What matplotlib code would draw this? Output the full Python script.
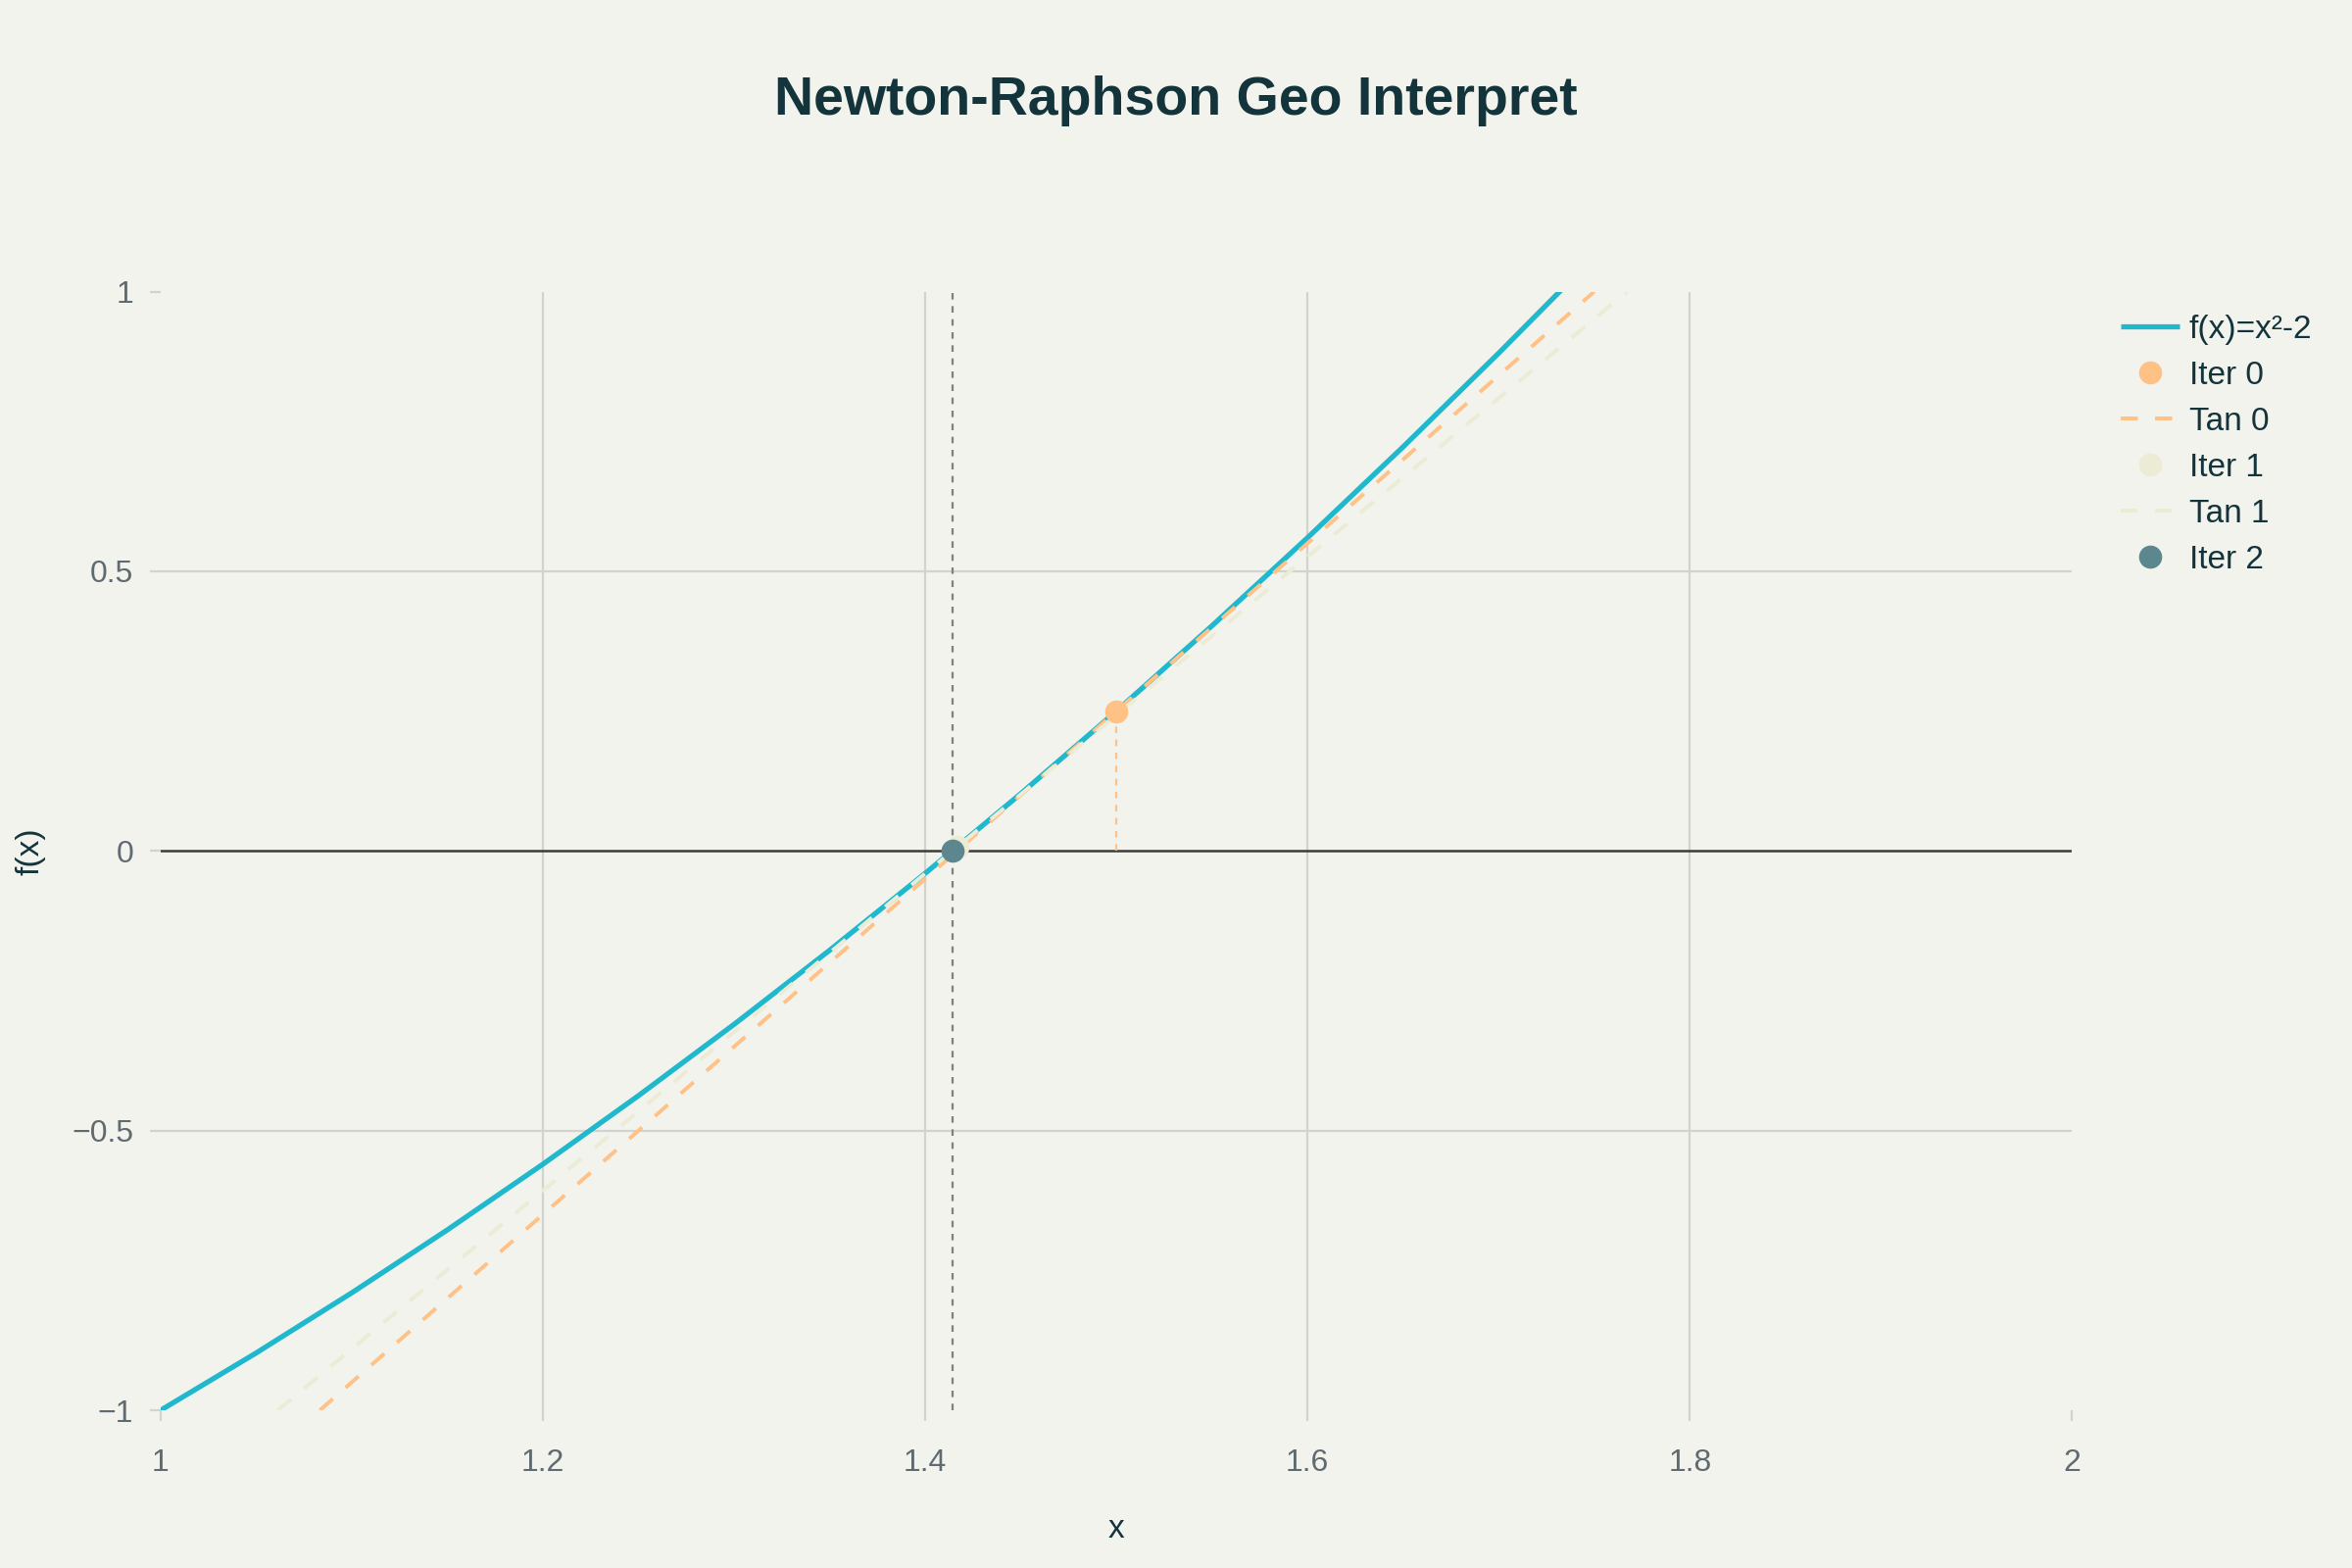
import matplotlib
matplotlib.use("Agg")
import matplotlib.pyplot as plt
from matplotlib.ticker import FixedLocator, FuncFormatter

plt.rcParams['font.family'] = ['Liberation Sans', 'DejaVu Sans']

# ---- data ----
curve_x = [1.00, 1.05, 1.10, 1.15, 1.20, 1.25, 1.30, 1.35, 1.40, 1.45, 1.50,
           1.55, 1.60, 1.65, 1.70, 1.75, 1.80]
curve_y = [-1.0000, -0.8975, -0.7900, -0.6775, -0.5600, -0.4375, -0.3100, -0.1775,
           -0.0400, 0.1025, 0.2500, 0.4025, 0.5600, 0.7225, 0.8900, 1.0625, 1.2400]

iter_x = [1.5, 1.41667, 1.41422]
iter_y = [0.25, 0.00694, 0.0]
iter_labels = ["Iter 0", "Iter 1", "Iter 2"]

tan0_x = [1.0833, 1.75]
tan0_y = [-1.0, 1.0]
tan1_x = [1.0613, 1.7672]
tan1_y = [-1.0, 1.0]

root_x = 1.41421

x_ticks = [1, 1.2, 1.4, 1.6, 1.8, 2]
y_ticks = [-1, -0.5, 0, 0.5, 1]
x_grid = [1.2, 1.4, 1.6, 1.8]
y_grid = [-0.5, 0.5]

# ---- style ----
BG = "#F3F3EE"
C_CURVE = "#1FB8CD"
C_IT = ["#FFC185", "#ECEBD5", "#5D878F"]
TXT = "#13343B"
TICK = "#5F6B70"
GRID = "#D2D2CE"

fig = plt.figure(figsize=(12, 8), dpi=200, facecolor=BG)
ax = fig.add_axes([0.0683, 0.1006, 0.8127, 0.7134])
ax.set_facecolor(BG)

ax.set_xlim(1, 2)
ax.set_ylim(-1, 1)

ax.xaxis.set_major_locator(FixedLocator(x_ticks))
ax.yaxis.set_major_locator(FixedLocator(y_ticks))
fmt = FuncFormatter(lambda v, p: ("%g" % v).replace("-", "\u2212"))
ax.xaxis.set_major_formatter(fmt)
ax.yaxis.set_major_formatter(fmt)

for gx in x_grid:
    ax.axvline(gx, color=GRID, linewidth=0.8, zorder=0)
for gy in y_grid:
    ax.axhline(gy, color=GRID, linewidth=0.8, zorder=0)
for s in ax.spines.values():
    s.set_visible(False)
ax.tick_params(axis='both', colors=GRID, labelcolor=TICK, labelsize=11.5,
               length=4, width=0.8, pad=6)
ax.tick_params(axis='x', pad=10)

# zero line
ax.axhline(0, color="#3C3C3C", linewidth=0.9, zorder=2)

# curve
ax.plot(curve_x, curve_y, color=C_CURVE, linewidth=1.9, label="f(x)=x\u00b2-2",
        zorder=3, solid_capstyle='butt')

# iter 0 + tangent 0
ax.plot([iter_x[0]], [iter_y[0]], 'o', color=C_IT[0], markersize=8.5,
        label=iter_labels[0], zorder=5, markeredgewidth=0)
ax.plot(tan0_x, tan0_y, color=C_IT[0], linewidth=1.4, dashes=(4.5, 4.5),
        label="Tan 0", zorder=4)
ax.plot([iter_x[0], iter_x[0]], [0, iter_y[0]], color=C_IT[0], linewidth=0.8,
        dashes=(3, 3), zorder=2)

# iter 1 + tangent 1
ax.plot([iter_x[1]], [iter_y[1]], 'o', color=C_IT[1], markersize=8.5,
        label=iter_labels[1], zorder=5, markeredgewidth=0)
ax.plot(tan1_x, tan1_y, color=C_IT[1], linewidth=1.4, dashes=(4.5, 4.5),
        label="Tan 1", zorder=4)

# iter 2
ax.plot([iter_x[2]], [iter_y[2]], 'o', color=C_IT[2], markersize=8.5,
        label=iter_labels[2], zorder=6, markeredgewidth=0)

# root line
ax.axvline(root_x, color="#808080", linewidth=0.8, dashes=(3, 3), zorder=2)

ax.set_xlabel("x", color=TXT, fontsize=12)
ax.set_ylabel("f(x)", color=TXT, fontsize=12)
ax.xaxis.set_label_coords(0.5, -0.093)
ax.yaxis.set_label_coords(-0.06, 0.5)

fig.suptitle("Newton-Raphson Geo Interpret", x=0.5, y=0.952, fontsize=20,
             fontweight='bold', color=TXT)

leg = fig.legend(loc='upper left', bbox_to_anchor=(0.896, 0.808), frameon=False,
                 fontsize=12, labelcolor=TXT, handlelength=1.8,
                 labelspacing=0.48, handletextpad=0.3, borderaxespad=0)

fig.savefig("out.png", dpi=200, facecolor=BG)
